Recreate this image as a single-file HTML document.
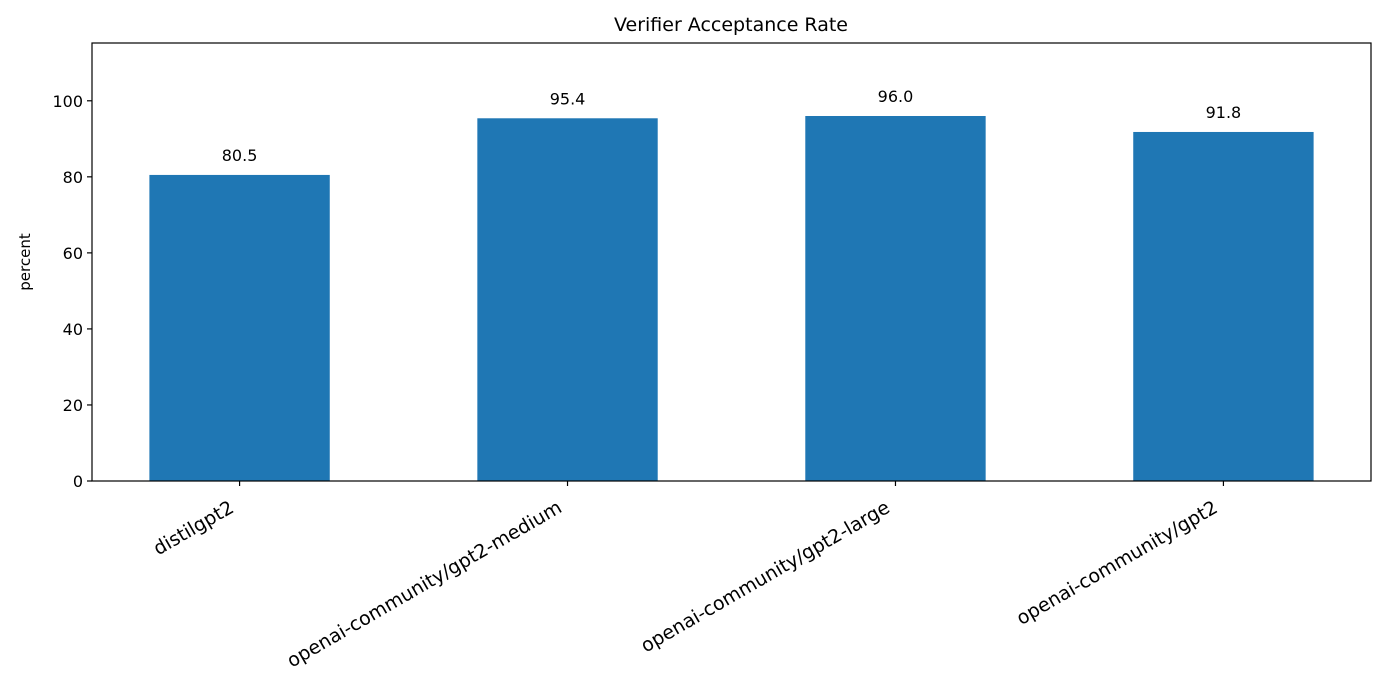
<!DOCTYPE html>
<html><head><meta charset="utf-8"><style>
body{margin:0;background:#fff}
svg{display:block;font-family:"DejaVu Sans","Liberation Sans",sans-serif}
</style></head><body>
<svg id="chart" width="1385" height="686">
<rect x="0" y="0" width="1385" height="686" fill="#fff"/>
<text x="731" y="31" font-size="19" text-anchor="middle">Verifier Acceptance Rate</text>
<text transform="translate(30,262) rotate(-90)" font-size="15" text-anchor="middle">percent</text>
<g id="bars"></g><g id="yticks"></g><g id="xticks"></g>
<rect x="92" y="43" width="1279" height="438" fill="none" stroke="#000" stroke-width="1.2"/>
</svg>
<script>
const categories = ["distilgpt2","openai-community/gpt2-medium","openai-community/gpt2-large","openai-community/gpt2"];
const values = [80.5, 95.4, 96.0, 91.8];
const valueLabels = ["80.5","95.4","96.0","91.8"];
const yTicks = [0,20,40,60,80,100];
const NS="http://www.w3.org/2000/svg";
const L=92,R=1371,T=43,B=481;
const yMax=Math.max(...values)*1.2;
const y=v=>B-(v/yMax)*(B-T);
const unit=(R-L)/(categories.length-1+0.9);
const x=i=>L+(i+0.45)*unit;
const bw=0.55*unit;
function mk(tag,attrs,parent){const e=document.createElementNS(NS,tag);for(const k in attrs)e.setAttribute(k,attrs[k]);parent.appendChild(e);return e;}
const gb=document.getElementById('bars'),gy=document.getElementById('yticks'),gx=document.getElementById('xticks');
values.forEach((v,i)=>{
  const r=mk('rect',{x:x(i)-bw/2,y:y(v),width:bw,height:B-y(v),fill:'#1f77b4'},gb);
  
  
  const t=mk('text',{x:x(i),y:y(v)-14,'font-size':16,'text-anchor':'middle'},gb);
  t.textContent=valueLabels[i];
  
  
});
yTicks.forEach(v=>{
  const l=mk('line',{x1:L-5,x2:L,y1:y(v),y2:y(v),stroke:'#000','stroke-width':1.2},gy);
  
  
  const t=mk('text',{x:L-9,y:y(v)+6,'font-size':16,'text-anchor':'end'},gy);
  t.textContent=v;
  
  
});
categories.forEach((c,i)=>{
  const l=mk('line',{x1:x(i),x2:x(i),y1:B,y2:B+5,stroke:'#000','stroke-width':1.2},gx);
  
  
  const t=mk('text',{transform:`translate(${x(i)-12},${B+17}) rotate(-30)`,'font-size':19,'text-anchor':'end',dy:'0.8em'},gx);
  t.textContent=c;
  
  
});
</script>
</body></html>
